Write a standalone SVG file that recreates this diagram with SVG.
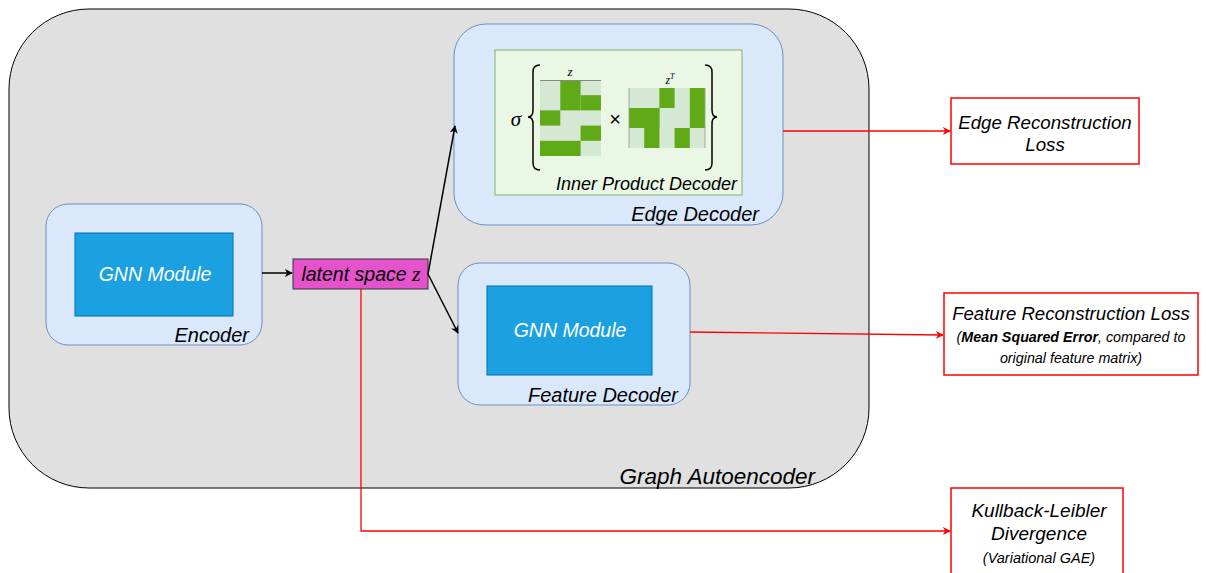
<svg xmlns="http://www.w3.org/2000/svg" width="1206" height="573" viewBox="0 0 1206 573">
<defs>
<style>
text{font-family:"Liberation Sans",Arial,sans-serif;font-style:italic;fill:#000}
.blue{fill:#dae8fc;stroke:#6c8ebf;stroke-width:1}
.gnn{fill:#1ba1e2;stroke:#006eaf;stroke-width:1}
.gnnt{fill:#fff;font-size:19.5px;text-anchor:middle}
.lbl{font-size:20px;text-anchor:end}
.loss{fill:#fff;stroke:#ff0000;stroke-width:1.5}
.g{fill:#60a917}
.l{fill:#d5e8d4}
.bk{stroke:#000;stroke-width:1.5;fill:none}
.rd{stroke:#ff0000;stroke-width:1.3;fill:none}
.m{font-family:"Liberation Serif","DejaVu Serif",serif;font-style:italic}
</style>
<marker id="ab" viewBox="0 0 10 10" refX="9" refY="5" markerWidth="8" markerHeight="8" orient="auto" markerUnits="userSpaceOnUse"><path d="M0,0 L10,5 L0,10 L3,5 Z" fill="#000"/></marker>
<marker id="ar" viewBox="0 0 10 10" refX="9" refY="5" markerWidth="8" markerHeight="8" orient="auto" markerUnits="userSpaceOnUse"><path d="M0,0 L10,5 L0,10 L3,5 Z" fill="#ff0000"/></marker>
</defs>
<rect id="graph-autoencoder" x="9" y="9" width="860" height="479" rx="80" fill="#e0e0e0" stroke="#000" stroke-width="1"/>
<text x="815" y="484" style="font-size:22.5px;text-anchor:end">Graph Autoencoder</text>

<g id="edge-decoder">
<rect class="blue" x="454" y="24" width="329" height="201" rx="32"/>
<text class="lbl" x="759" y="221">Edge Decoder</text>
</g>
<g id="inner-product-decoder">
<rect x="495" y="50" width="247" height="145" fill="#e9f7e4" stroke="#82b366" stroke-width="1"/>
<text x="737" y="190" style="font-size:18px;text-anchor:end">Inner Product Decoder</text>
<text class="m" x="516" y="126" style="font-size:21px;text-anchor:middle">σ</text>
<text x="615" y="126" style="font-size:20px;font-style:normal;text-anchor:middle">×</text>
<path class="bk" stroke-width="1.2" d="M540,65 Q533,65 533,72 L533,110 Q533,117 528,117 Q533,117 533,124 L533,163 Q533,170 540,170"/>
<path class="bk" stroke-width="1.2" d="M705,65 Q712,65 712,72 L712,110 Q712,117 717,117 Q712,117 712,124 L712,163 Q712,170 705,170"/>
<text class="m" x="570" y="76" style="font-size:13px;text-anchor:middle">z</text>
<text class="m" x="670" y="84" style="font-size:12px;text-anchor:middle">z<tspan dy="-5" style="font-size:8px">T</tspan></text>
<rect class="l" x="540" y="80" width="61" height="76"/>
<g stroke="none">
<rect class="g" x="560.3" y="80" width="20.3" height="30.4"/>
<rect class="g" x="580.6" y="95.2" width="20.4" height="15.2"/>
<rect class="g" x="540" y="110.4" width="20.3" height="15.2"/>
<rect class="g" x="580.6" y="125.6" width="20.4" height="15.2"/>
<rect class="g" x="540" y="140.8" width="40.6" height="15.2"/>
</g>
<path d="M540,80.5 H601" stroke="#888" stroke-width="1"/>
<rect class="l" x="629" y="88" width="76" height="60"/>
<g stroke="none">
<rect class="g" x="659.4" y="88" width="15.2" height="20"/>
<rect class="g" x="689.8" y="88" width="15.2" height="40"/>
<rect class="g" x="629" y="108" width="30.4" height="20"/>
<rect class="g" x="644.2" y="108" width="15.2" height="40"/>
<rect class="g" x="674.6" y="128" width="15.2" height="20"/>
</g>
<path d="M629,148 V88 M705,88 V148" stroke="#999" stroke-width="0.8"/>
</g>

<g id="encoder">
<rect class="blue" x="46" y="204" width="216" height="141" rx="22"/>
<text class="lbl" x="249" y="342">Encoder</text>
</g>
<g id="encoder-gnn">
<rect class="gnn" x="75" y="233" width="158" height="83"/>
<text class="gnnt" x="155" y="281">GNN Module</text>
</g>

<g id="feature-decoder">
<rect class="blue" x="458" y="263" width="232" height="142" rx="22"/>
<text class="lbl" x="678" y="402">Feature Decoder</text>
</g>
<g id="decoder-gnn">
<rect class="gnn" x="487" y="286" width="165" height="89"/>
<text class="gnnt" x="570" y="337">GNN Module</text>
</g>

<g id="latent">
<rect x="293" y="259" width="135" height="30" fill="#e652cc" stroke="#333" stroke-width="1"/>
<text x="361" y="281" style="font-size:19.5px;text-anchor:middle">latent space <tspan class="m" style="font-size:22px">z</tspan></text>
</g>

<g id="edge-loss">
<rect class="loss" x="951" y="98" width="188" height="66"/>
<text x="1045" y="129" style="font-size:18.7px;text-anchor:middle">Edge Reconstruction</text>
<text x="1045" y="151" style="font-size:18.7px;text-anchor:middle">Loss</text>
</g>
<g id="feature-loss">
<rect class="loss" x="944" y="293" width="254" height="82"/>
<text x="1071" y="320" style="font-size:18.6px;text-anchor:middle">Feature Reconstruction Loss</text>
<text x="1071" y="342" style="font-size:14.3px;text-anchor:middle">(<tspan style="font-weight:bold">Mean Squared Error</tspan>, compared to</text>
<text x="1071" y="363" style="font-size:14.3px;text-anchor:middle">original feature matrix)</text>
</g>
<g id="kl-loss">
<rect class="loss" x="951" y="488" width="172" height="92"/>
<text x="1039" y="517" style="font-size:19px;text-anchor:middle">Kullback-Leibler</text>
<text x="1039" y="540" style="font-size:19px;text-anchor:middle">Divergence</text>
<text x="1039" y="563" style="font-size:14.5px;text-anchor:middle">(Variational GAE)</text>
</g>

<g id="connectors">
<path class="bk" d="M262,273 L292,273" marker-end="url(#ab)"/>
<path class="bk" d="M428,274 L455,126" marker-end="url(#ab)"/>
<path class="bk" d="M428,274 L458,333" marker-end="url(#ab)"/>
<path class="rd" d="M783,131 L950,131" marker-end="url(#ar)"/>
<path class="rd" d="M690,332 L943,335" marker-end="url(#ar)"/>
<path class="rd" d="M361,289 L361,531 L950,531" marker-end="url(#ar)"/>
</g>
</svg>
